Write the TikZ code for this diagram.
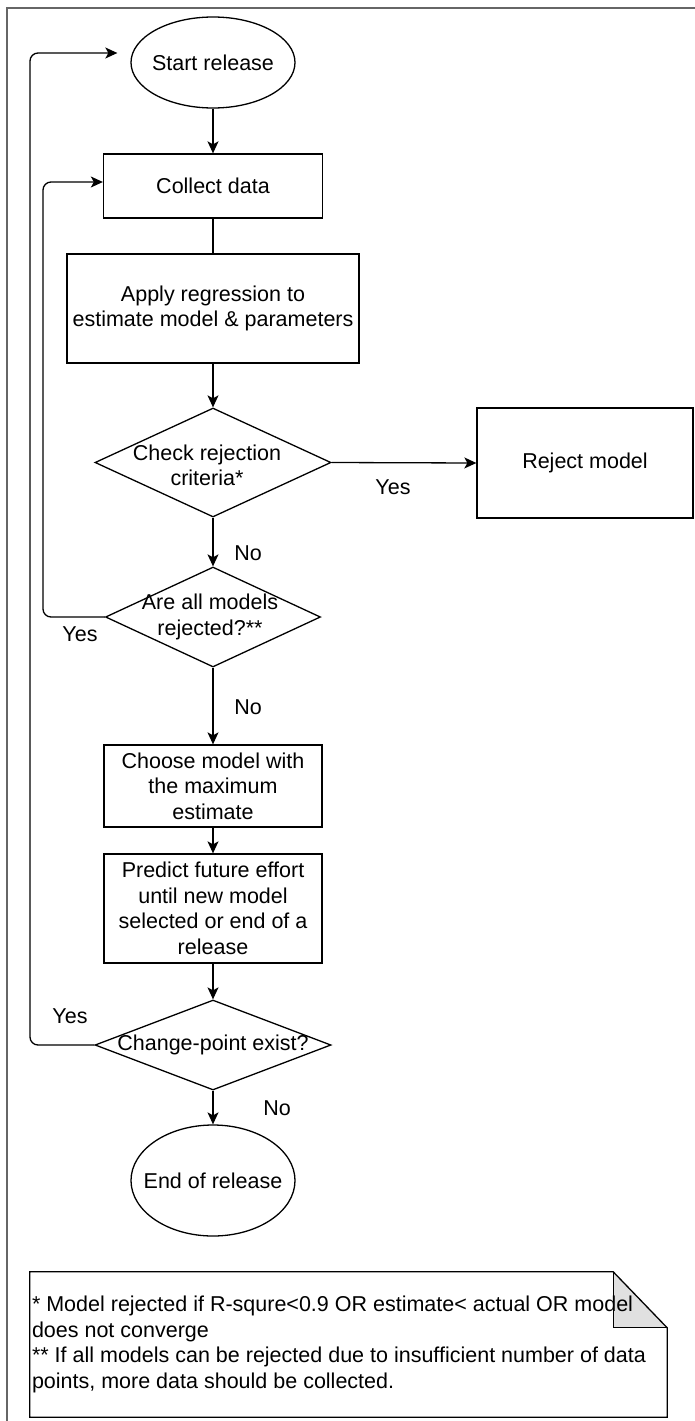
\documentclass[tikz,border=0pt]{standalone}
\usepackage{fontspec}
\setmainfont{Liberation Sans}
\usetikzlibrary{shapes.geometric,arrows.meta,calc}

\begin{document}
\begin{tikzpicture}[x=1pt,y=-1pt,
  every node/.style={font=\fontsize{21.5}{25.5}\selectfont},
  line/.style={line width=1.3pt, black},
  flow/.style={line, -{Stealth[length=12pt,width=11pt,inset=3pt]}},
  proc/.style={draw, line width=1.3pt, rectangle, align=center, inner sep=2pt},
  term/.style={draw, line width=1.3pt, ellipse, inner sep=0pt},
  decide/.style={draw, line width=1.3pt, diamond, inner sep=0pt},
  tag/.style={inner sep=0pt}
]
\useasboundingbox (0,0) rectangle (694,1421);
\fill[white] (0,0) rectangle (694,1421);
% page frame
\draw[line width=1.5pt, black!60] (7,1430) -- (7,8) -- (705,8);

% main column
\node[term, minimum width=164pt, minimum height=91pt,
      label={center:Start release}] (start) at (213,62.5) {};
\node[proc, minimum width=219pt, minimum height=64pt] (collect) at (213,186) {Collect data};
\node[proc, minimum width=292pt, minimum height=109pt] (apply) at (213,308.5)
  {Apply regression to\\estimate model \& parameters};
\node[decide, minimum width=236pt, minimum height=109pt,
      label={[align=center, xshift=-6pt, yshift=-3pt]center:Check rejection\\criteria*}] (check) at (213,462.5) {};
\node[proc, minimum width=216pt, minimum height=110pt] (reject) at (585,463) {Reject model};
\node[decide, minimum width=215pt, minimum height=100pt,
      label={[align=center, xshift=-3pt]center:Are all models\\rejected?**}] (allrej) at (213,617) {};
\node[proc, minimum width=218pt, minimum height=82pt] (choose) at (213,786)
  {Choose model with\\the maximum\\estimate};
\node[proc, minimum width=218pt, minimum height=109pt] (predict) at (213,908.5)
  {Predict future effort\\until new model\\selected or end of a\\release};
\node[decide, minimum width=236pt, minimum height=90pt,
      label={center:Change-point exist?}] (change) at (213,1045) {};
\node[term, minimum width=164pt, minimum height=111pt,
      label={center:End of release}] (finish) at (213,1180.5) {};

% connectors
\draw[flow] (start.south) -- (collect.north);
\draw[line] (collect.south) -- (apply.north);
\draw[flow] (apply.south) -- (check.north);
\draw[flow] (check.east) -- (reject.west);
\draw[flow] (check.south) -- (allrej.north);
\draw[flow] (allrej.south) -- (choose.north);
\draw[flow] (choose.south) -- (predict.north);
\draw[flow] (predict.south) -- (change.north);
\draw[flow] (change.south) -- (finish.north);

% loops back
\coordinate (loopA) at (43,182);
\draw[flow, rounded corners=8pt] (allrej.west) -| (loopA) -- (collect.west |- loopA);
\coordinate (loopB) at (30,53);
\draw[flow, rounded corners=8pt, shorten >=13pt] (change.west) -| (loopB) -- (start.west |- loopB);

% branch labels
\node[tag] (yes1) at (393,487) {Yes};
\node[tag] (no1) at (248,553) {No};
\node[tag] (yes2) at (80,634) {Yes};
\node[tag] (no2) at (248,707) {No};
\node[tag] (yes3) at (70,1016) {Yes};
\node[tag] (no3) at (277,1108) {No};

% footnote sheet with folded corner
\node[minimum width=637pt, minimum height=145pt, inner sep=0pt] (note) at (348.5,1344.5) {};
\fill[black!12] ($(note.north east)+(-54,0)$) -- ($(note.north east)+(-54,56)$) -- ($(note.north east)+(0,56)$) -- cycle;
\draw[line] (note.north west) -- ($(note.north east)+(-54,0)$) -- ($(note.north east)+(0,56)$)
  -- (note.south east) -- (note.south west) -- cycle;
\draw[line] ($(note.north east)+(-54,0)$) -- ($(note.north east)+(-54,56)$) -- ($(note.north east)+(0,56)$);
\node[anchor=west, align=left, inner sep=0pt] (notetext) at ([xshift=2pt]note.west)
  {* Model rejected if R-squre<0.9 OR estimate< actual OR model\\
   does not converge\\
   ** If all models can be rejected due to insufficient number of data\\
   points, more data should be collected.};
\end{tikzpicture}
\end{document}
